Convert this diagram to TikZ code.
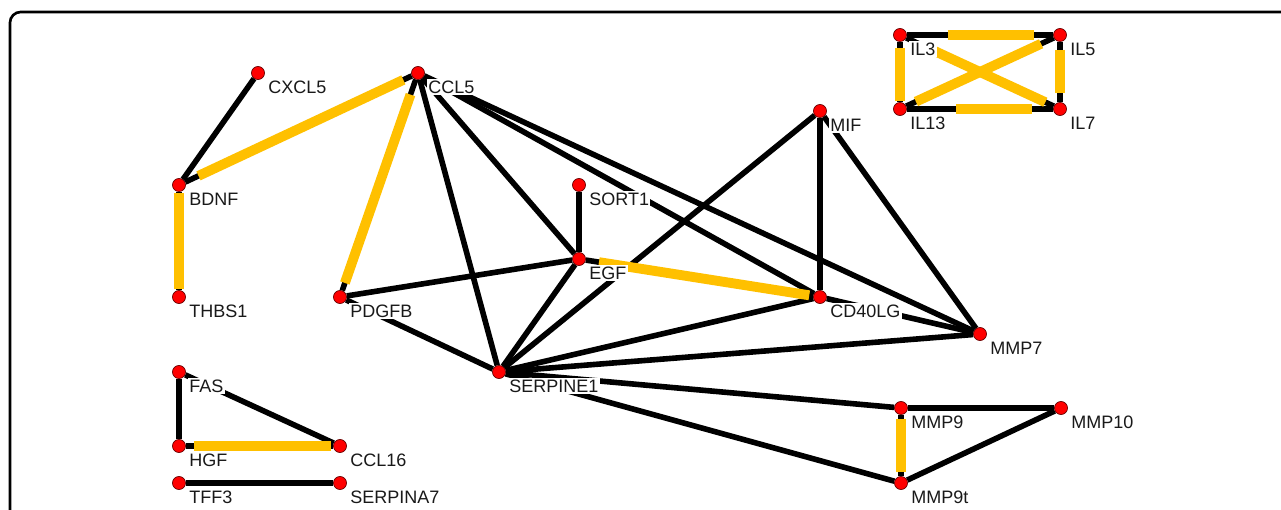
\documentclass[tikz,border=0pt]{standalone}
\usepackage{fontspec}
\setmainfont{Liberation Sans}
\usetikzlibrary{backgrounds}
\definecolor{hlyellow}{RGB}{255,192,0}
\definecolor{dotred}{RGB}{255,0,0}

\begin{document}
\begin{tikzpicture}[x=0.75pt, y=-0.75pt,
    gene/.style={circle, fill=dotred, draw=black!60!red, line width=0.5pt,
        inner sep=0pt, minimum size=9.8pt},
    every label/.style={fill=white, inner sep=1pt, text height=9.7pt, text depth=0pt,
        font=\fontsize{13.5pt}{14pt}\selectfont, text=black!90, xshift=3pt, yshift=-0.8pt},
    link/.style={line width=4.2pt},
    hl/.style={line width=7.4pt, hlyellow}]
    % frame
    \useasboundingbox (0,0) rectangle (1281,510);
    \draw[line width=2pt, rounded corners=8pt] (1281,12) -- (10,12) -- (10,510);

    % genes
    \node[gene, label=below right:CXCL5] (cxcl5) at (258,73) {};
    \node[gene, label=below right:CCL5] (ccl5) at (418,73) {};
    \node[gene, label=below right:BDNF] (bdnf) at (179,185) {};
    \node[gene, label=below right:THBS1] (thbs1) at (179,297) {};
    \node[gene, label=below right:PDGFB] (pdgfb) at (340,297) {};
    \node[gene, label=below right:SORT1] (sort1) at (579,185) {};
    \node[gene, label=below right:EGF] (egf) at (579,259) {};
    \node[gene, label=below right:MIF] (mif) at (820,111) {};
    \node[gene, label=below right:CD40LG] (cd40lg) at (820,297) {};
    \node[gene, label=below right:MMP7] (mmp7) at (980,334) {};
    \node[gene, label=below right:SERPINE1] (serpine1) at (499,372) {};
    \node[gene, label=below right:MMP9] (mmp9) at (901,408) {};
    \node[gene, label=below right:MMP10] (mmp10) at (1061,408) {};
    \node[gene, label=below right:MMP9t] (mmp9t) at (901,483) {};
    \node[gene, label=below right:FAS] (fas) at (179,372) {};
    \node[gene, label=below right:HGF] (hgf) at (179,446) {};
    \node[gene, label=below right:CCL16] (ccl16) at (340,446) {};
    \node[gene, label=below right:TFF3] (tff3) at (179,483) {};
    \node[gene, label=below right:SERPINA7] (serpina7) at (340,483) {};
    \node[gene, label=below right:IL3] (il3) at (900,35) {};
    \node[gene, label=below right:IL5] (il5) at (1060,35) {};
    \node[gene, label=below right:IL13] (il13) at (900,109) {};
    \node[gene, label=below right:IL7] (il7) at (1060,109) {};

    \begin{scope}[on background layer]
    \draw[link] (cxcl5) -- (bdnf);
    \draw[link] (ccl5) -- (serpine1);
    \draw[link] (ccl5) -- (egf);
    \draw[link] (ccl5) -- (cd40lg);
    \draw[link] (ccl5) -- (mmp7);
    \draw[link] (sort1) -- (egf);
    \draw[link] (pdgfb) -- (egf);
    \draw[link] (pdgfb) -- (serpine1);
    \draw[link] (egf) -- (serpine1);
    \draw[link] (serpine1) -- (mif);
    \draw[link] (serpine1) -- (cd40lg);
    \draw[link] (serpine1) -- (mmp7);
    \draw[link] (serpine1) -- (mmp9);
    \draw[link] (serpine1) -- (mmp9t);
    \draw[link] (mif) -- (cd40lg);
    \draw[link] (mif) -- (mmp7);
    \draw[link] (cd40lg) -- (mmp7);
    \draw[link] (mmp9) -- (mmp10);
    \draw[link] (mmp10) -- (mmp9t);
    \draw[link] (fas) -- (hgf);
    \draw[link] (fas) -- (ccl16);
    \draw[link] (tff3) -- (serpina7);

    % highlighted pairs
    \draw[link] (bdnf) -- (ccl5);
    \draw[hl, shorten <=11pt, shorten >=7pt] (bdnf) -- (ccl5);
    \draw[link] (ccl5) -- (pdgfb);
    \draw[hl, shorten <=12pt, shorten >=6pt] (ccl5) -- (pdgfb);
    \draw[link] (bdnf) -- (thbs1);
    \draw[hl, shorten <=1pt, shorten >=1pt] (bdnf) -- (thbs1);
    \draw[link] (egf) -- (cd40lg);
    \draw[hl, shorten <=10pt, shorten >=3pt] (egf) -- (cd40lg);
    \draw[link] (hgf) -- (ccl16);
    \draw[hl, shorten <=6pt, shorten >=1.5pt] (hgf) -- (ccl16);
    \draw[link] (mmp9) -- (mmp9t);
    \draw[hl, shorten <=3pt, shorten >=3pt] (mmp9) -- (mmp9t);
    \draw[link] (il3) -- (il5);
    \draw[hl, shorten <=31pt, shorten >=14pt] (il3) -- (il5);
    \draw[link] (il13) -- (il7);
    \draw[hl, shorten <=37pt, shorten >=16pt] (il13) -- (il7);
    \draw[link] (il3) -- (il13);
    \draw[hl, shorten <=4.5pt, shorten >=1pt] (il3) -- (il13);
    \draw[link] (il5) -- (il7);
    \draw[hl, shorten <=6pt, shorten >=7pt] (il5) -- (il7);
    \draw[link] (il13) -- (il5);
    \draw[hl, shorten <=8pt, shorten >=10.5pt] (il13) -- (il5);
    \draw[link] (il3) -- (il7);
    \draw[hl, shorten <=23pt, shorten >=7pt] (il3) -- (il7);
    \end{scope}
\end{tikzpicture}
\end{document}
